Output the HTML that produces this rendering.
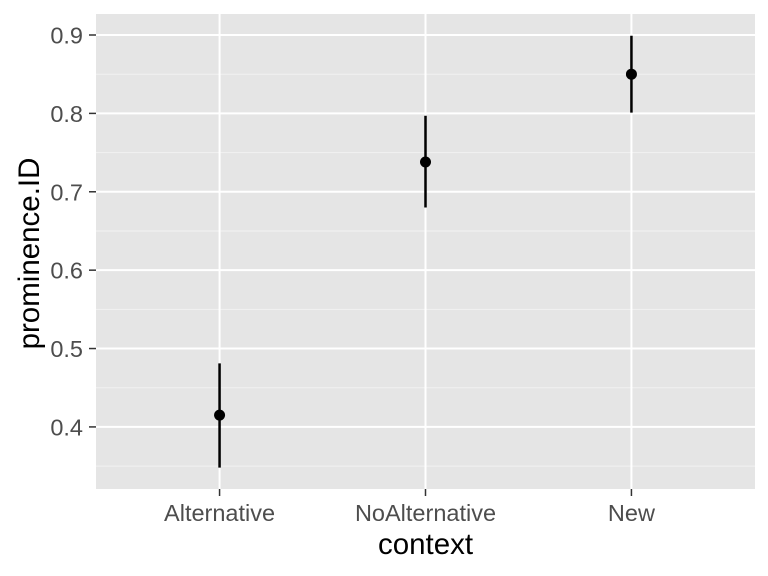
<!DOCTYPE html>
<html><head><meta charset="utf-8"><style>
html,body{margin:0;padding:0;background:#fff;}
svg{display:block;font-family:"Liberation Sans",sans-serif;}
</style></head><body>
<svg id="chart" width="768" height="576"></svg>
<script>
const categories=["Alternative","NoAlternative","New"];
const means=[0.415,0.738,0.850];
const lowers=[0.348,0.680,0.801];
const uppers=[0.481,0.797,0.899];
const yTicks=[0.4,0.5,0.6,0.7,0.8,0.9];
const tickLabels=["0.4","0.5","0.6","0.7","0.8","0.9"];
const NS="http://www.w3.org/2000/svg";
const svg=document.getElementById('chart');
const L=96,R=755,T=14,B=489;
const yMin=0.3208,yMax=0.9268;
const y=v=>B-(v-yMin)/(yMax-yMin)*(B-T);
const x=i=>L+(R-L)*(i+0.6)/(categories.length+0.2);
function mk(tag,attrs,parent){const e=document.createElementNS(NS,tag);for(const k in attrs)e.setAttribute(k,attrs[k]);(parent||svg).appendChild(e);return e;}
const panel=mk('rect',{x:L,y:T,width:R-L,height:B-T,fill:'#e5e5e5'});


for(let i=0;i<yTicks.length-1;i++){const m=(yTicks[i]+yTicks[i+1])/2;const g=mk('line',{x1:L,x2:R,y1:y(m),y2:y(m),stroke:'#f2f2f2','stroke-width':1});}
{const m=yTicks[0]-0.05;if(m>yMin){const g=mk('line',{x1:L,x2:R,y1:y(m),y2:y(m),stroke:'#f2f2f2','stroke-width':1});}}
yTicks.forEach((t,i)=>{
 const g=mk('line',{x1:L,x2:R,y1:y(t),y2:y(t),stroke:'#fff','stroke-width':2});
 
 const tk=mk('line',{x1:L-7,x2:L,y1:y(t),y2:y(t),stroke:'#333','stroke-width':1.5});
 
 const tx=mk('text',{x:L-13,y:y(t)+8.5,'text-anchor':'end','font-size':23.5,fill:'#4d4d4d'});tx.textContent=tickLabels[i];
 
});
categories.forEach((c,i)=>{
 const g=mk('line',{x1:x(i),x2:x(i),y1:T,y2:B,stroke:'#fff','stroke-width':2});
 
 const tk=mk('line',{x1:x(i),x2:x(i),y1:B,y2:B+7,stroke:'#333','stroke-width':1.5});
 
 const tx=mk('text',{x:x(i),y:521,'text-anchor':'middle','font-size':23.5,fill:'#4d4d4d'});tx.textContent=c;
 
 const eb=mk('line',{x1:x(i),x2:x(i),y1:y(lowers[i]),y2:y(uppers[i]),stroke:'#000','stroke-width':2.5});
 
 const pt=mk('circle',{cx:x(i),cy:y(means[i]),r:5.5,fill:'#000'});
 
});
const xt=mk('text',{x:(L+R)/2,y:554,'text-anchor':'middle','font-size':29.5,fill:'#000'});xt.textContent='context';

const yt=mk('text',{x:0,y:0,'text-anchor':'middle','font-size':29.5,fill:'#000',transform:`translate(39,${(T+B)/2+2}) rotate(-90)`});yt.textContent='prominence.ID';

</script>
</body></html>
